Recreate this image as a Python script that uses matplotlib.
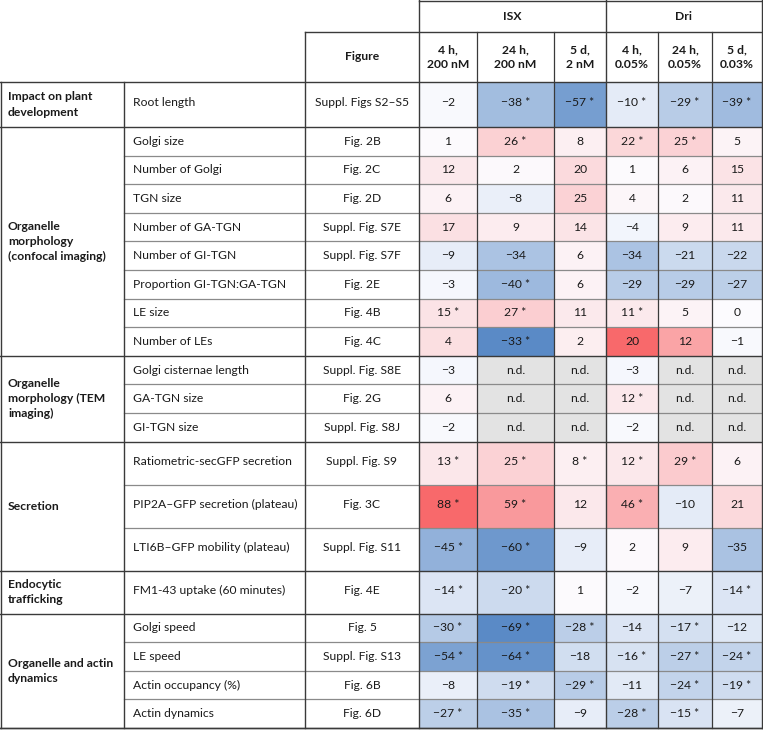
import matplotlib
matplotlib.use("Agg")
import matplotlib.pyplot as plt
from matplotlib.colors import LinearSegmentedColormap, TwoSlopeNorm
from matplotlib.patches import Rectangle

# ---------------- data ----------------
categories = ["Impact on plant\ndevelopment",
              "Organelle\nmorphology\n(confocal imaging)",
              "Organelle\nmorphology (TEM\nimaging)",
              "Secretion",
              "Endocytic\ntrafficking",
              "Organelle and actin\ndynamics"]
category_sizes = [1, 8, 3, 3, 1, 4]

items = ["Root length", "Golgi size", "Number of Golgi", "TGN size",
         "Number of GA-TGN", "Number of GI-TGN", "Proportion GI-TGN:GA-TGN",
         "LE size", "Number of LEs", "Golgi cisternae length", "GA-TGN size",
         "GI-TGN size", "Ratiometric-secGFP secretion",
         "PIP2A\u2013GFP secretion (plateau)", "LTI6B\u2013GFP mobility (plateau)",
         "FM1-43 uptake (60 minutes)", "Golgi speed", "LE speed",
         "Actin occupancy (%)", "Actin dynamics"]
figures = ["Suppl. Figs S2\u2013S5", "Fig. 2B", "Fig. 2C", "Fig. 2D",
           "Suppl. Fig. S7E", "Suppl. Fig. S7F", "Fig. 2E", "Fig. 4B", "Fig. 4C",
           "Suppl. Fig. S8E", "Fig. 2G", "Suppl. Fig. S8J", "Suppl. Fig. S9",
           "Fig. 3C", "Suppl. Fig. S11", "Fig. 4E", "Fig. 5", "Suppl. Fig. S13",
           "Fig. 6B", "Fig. 6D"]

groups = ["ISX", "Dri"]
conditions = ["4 h,\n200 nM", "24 h,\n200 nM", "5 d,\n2 nM",
              "4 h,\n0.05%", "24 h,\n0.05%", "5 d,\n0.03%"]

nd = None
isx_4h = [-2, 1, 12, 6, 17, -9, -3, 15, 4, -3, 6, -2, 13, 88, -45, -14, -30, -54, -8, -27]
isx_4h_sig = [0, 0, 0, 0, 0, 0, 0, 1, 0, 0, 0, 0, 1, 1, 1, 1, 1, 1, 0, 1]
isx_24h = [-38, 26, 2, -8, 9, -34, -40, 27, -33, nd, nd, nd, 25, 59, -60, -20, -69, -64, -19, -35]
isx_24h_sig = [1, 1, 0, 0, 0, 0, 1, 1, 1, 0, 0, 0, 1, 1, 1, 1, 1, 1, 1, 1]
isx_5d = [-57, 8, 20, 25, 14, 6, 6, 11, 2, nd, nd, nd, 8, 12, -9, 1, -28, -18, -29, -9]
isx_5d_sig = [1, 0, 0, 0, 0, 0, 0, 0, 0, 0, 0, 0, 1, 0, 0, 0, 1, 0, 1, 0]
dri_4h = [-10, 22, 1, 4, -4, -34, -29, 11, 20, -3, 12, -2, 12, 46, 2, -2, -14, -16, -11, -28]
dri_4h_sig = [1, 1, 0, 0, 0, 0, 0, 1, 0, 0, 1, 0, 1, 1, 0, 0, 0, 1, 0, 1]
dri_24h = [-29, 25, 6, 2, 9, -21, -29, 5, 12, nd, nd, nd, 29, -10, 9, -7, -17, -27, -24, -15]
dri_24h_sig = [1, 1, 0, 0, 0, 0, 0, 0, 0, 0, 0, 0, 1, 0, 0, 0, 1, 1, 1, 1]
dri_5d = [-39, 5, 15, 11, 11, -22, -27, 0, -1, nd, nd, nd, 6, 21, -35, -14, -12, -24, -19, -7]
dri_5d_sig = [1, 0, 0, 0, 0, 0, 0, 0, 0, 0, 0, 0, 0, 0, 0, 1, 0, 1, 1, 0]

# rows whose colour scale was set separately in the source table
separate_scale_rows = ["Number of LEs"]

columns = [isx_4h, isx_24h, isx_5d, dri_4h, dri_24h, dri_5d]
sigs = [isx_4h_sig, isx_24h_sig, isx_5d_sig, dri_4h_sig, dri_24h_sig, dri_5d_sig]

# ---------------- layout (pixels) ----------------
W, H = 763, 730
col_x = [0, 124, 305, 419, 477, 554, 606, 658, 712, 762]
y_header1, y_header2, y_body = 0, 32, 82
short_h, tall_h, root_h = 28.6, 43.0, 45.0
row_heights = [root_h] + [short_h] * 8 + [short_h] * 3 + [tall_h] * 3 + [tall_h] + [short_h] * 4

plt.rcParams['font.family'] = ['Lato', 'DejaVu Sans']
FS = 8.7

fig = plt.figure(figsize=(W / 100, H / 100), dpi=100)
ax = fig.add_axes([0, 0, 1, 1])
ax.set_xlim(0, W)
ax.set_ylim(H, 0)
ax.axis('off')

cmap = LinearSegmentedColormap.from_list("excel3", ["#5A8AC6", "#FCFCFF", "#F8696B"])
all_vals = [v for c in columns for i, v in enumerate(c)
            if v is not None and items[i] not in separate_scale_rows]
gnorm = TwoSlopeNorm(vmin=min(all_vals), vcenter=0, vmax=max(all_vals))

row_tops = [y_body]
for h in row_heights:
    row_tops.append(row_tops[-1] + h)

def fmt(v, s):
    t = str(v).replace("-", "\u2212")
    return t + (" *" if s else "")

# cells
for i in range(len(items)):
    top, h = row_tops[i], row_heights[i]
    yc = top + h / 2 - (2 if h > 40 else 0)
    if items[i] in separate_scale_rows:
        rv = [c[i] for c in columns if c[i] is not None]
        norm = TwoSlopeNorm(vmin=min(rv), vcenter=0, vmax=max(rv))
    else:
        norm = gnorm
    for j, (col, sg) in enumerate(zip(columns, sigs)):
        x0, x1 = col_x[3 + j], col_x[4 + j]
        v = col[i]
        if v is None:
            fc = "#E3E3E3"
            txt = "n.d."
        else:
            fc = cmap(norm(v))
            txt = fmt(v, sg[i])
        ax.add_patch(Rectangle((x0, top), x1 - x0, h, facecolor=fc, edgecolor='none', zorder=1))
        ax.text((x0 + x1) / 2, yc, txt, ha='center', va='center', fontsize=FS, color='#1a1a1a', zorder=3)
    ax.text(col_x[1] + 9, yc, items[i], ha='left', va='center', fontsize=FS, color='#1a1a1a', zorder=3)
    ax.text((col_x[2] + col_x[3]) / 2, yc, figures[i], ha='center', va='center', fontsize=FS,
            color='#1a1a1a', zorder=3)

# categories
start = 0
section_bounds = [y_body]
for cat, n in zip(categories, category_sizes):
    top = row_tops[start]
    bot = row_tops[start + n]
    section_bounds.append(bot)
    ax.text(8, (top + bot) / 2, cat, ha='left', va='center', fontsize=FS, fontweight='bold',
            linespacing=1.45, color='#1a1a1a', zorder=3)
    start += n

# headers
ax.text((col_x[3] + col_x[6]) / 2, 17, groups[0], ha='center', va='center', fontsize=FS,
        fontweight='bold', color='#1a1a1a')
ax.text((col_x[6] + col_x[9]) / 2, 17, groups[1], ha='center', va='center', fontsize=FS,
        fontweight='bold', color='#1a1a1a')
ax.text((col_x[2] + col_x[3]) / 2, 57, "Figure", ha='center', va='center', fontsize=FS,
        fontweight='bold', color='#1a1a1a')
for j, c in enumerate(conditions):
    ax.text((col_x[3 + j] + col_x[4 + j]) / 2, 57, c, ha='center', va='center', fontsize=FS,
            fontweight='bold', linespacing=1.45, color='#1a1a1a')

# grid lines
dark = dict(color='#3a3a3a', lw=1.0, zorder=5, solid_capstyle='projecting')
light = dict(color='#8a8a8a', lw=0.9, zorder=4)
bottom = row_tops[-1]

# inner row lines
for k in range(1, len(items)):
    y = row_tops[k]
    if y in section_bounds:
        continue
    ax.plot([col_x[1], col_x[9]], [y, y], **light)

# section lines
for y in section_bounds:
    ax.plot([col_x[0], col_x[9]], [y, y], **dark)
ax.plot([col_x[0], col_x[9]], [bottom - 0.5, bottom - 0.5], **dark)
ax.plot([col_x[3], col_x[9]], [0.6, 0.6], **dark)
ax.plot([col_x[2], col_x[9]], [y_header2, y_header2], **dark)

# vertical lines
ax.plot([0.6, 0.6], [y_body, bottom], **dark)
ax.plot([col_x[1], col_x[1]], [y_body, bottom], **dark)
ax.plot([col_x[2], col_x[2]], [y_header2, bottom], **dark)
ax.plot([col_x[3], col_x[3]], [0, bottom], **dark)
ax.plot([col_x[6], col_x[6]], [0, bottom], **dark)
ax.plot([col_x[9] - 0.5, col_x[9] - 0.5], [0, bottom], **dark)
for k in (4, 5, 7, 8):
    ax.plot([col_x[k], col_x[k]], [y_header2, bottom], color='#3a3a3a', lw=0.9, zorder=5)

fig.savefig("out.png", dpi=100, facecolor='white')
